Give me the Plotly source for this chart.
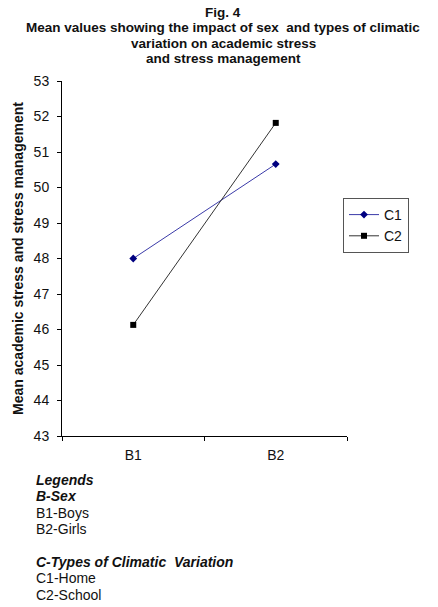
import plotly.graph_objects as go

categories = ["B1", "B2"]
c1_values = [48.0, 50.66]
c2_values = [46.13, 51.82]
series_names = ["C1", "C2"]
title_lines = [
    "Fig. 4",
    "Mean values showing the impact of sex  and types of climatic",
    "variation on academic stress",
    "and stress management",
]
y_title = "Mean academic stress and stress management"
note_lines = [
    ("<b><i>Legends</i></b>", 480),
    ("<b><i>B-Sex</i></b>", 496),
    ("B1-Boys", 513),
    ("B2-Girls", 529),
    ("<b><i>C-Types of Climatic  Variation</i></b>", 562),
    ("C1-Home", 578),
    ("C2-School", 595),
]

W, H = 438, 607
L, R, T, B = 62, 347, 81, 436
FONT = "Liberation Sans, Arial, sans-serif"
TXT = "#111"

def py(p):
    return (B - p) / (B - T)

def px(p):
    return (p - L) / (R - L)

fig = go.Figure()
fig.add_trace(go.Scatter(
    x=categories, y=c1_values, name=series_names[0], mode="lines+markers",
    line=dict(color="#3a3aa8", width=1),
    marker=dict(symbol="diamond", size=6, color="#000080"),
))
fig.add_trace(go.Scatter(
    x=categories, y=c2_values, name=series_names[1], mode="lines+markers",
    line=dict(color="#333333", width=1),
    marker=dict(symbol="square", size=6, color="#000000"),
))

annotations = []
title_y = [12.5, 27.8, 43.1, 58.4]
for t, yy in zip(title_lines, title_y):
    annotations.append(dict(
        text="<b>" + t + "</b>", xref="paper", yref="paper",
        x=px(223), y=py(yy), xanchor="center", yanchor="middle",
        showarrow=False, font=dict(family=FONT, size=13.5, color=TXT),
    ))
for t, yy in note_lines:
    annotations.append(dict(
        text=t, xref="paper", yref="paper",
        x=px(34), y=py(yy), xanchor="left", yanchor="middle",
        showarrow=False, font=dict(family=FONT, size=14, color=TXT),
    ))

fig.update_layout(
    width=W, height=H,
    margin=dict(l=L, r=W - R, t=T, b=H - B),
    paper_bgcolor="white", plot_bgcolor="white",
    font=dict(family=FONT, size=14, color=TXT),
    showlegend=True,
    legend=dict(
        x=px(343), y=py(198), xanchor="left", yanchor="top",
        bordercolor="#555", borderwidth=1, bgcolor="white",
        font=dict(family=FONT, size=14, color=TXT),
        itemwidth=30, tracegroupgap=0,
    ),
    annotations=annotations,
    xaxis=dict(
        type="category", range=[-0.5, 1.5],
        showline=True, linecolor="#000", linewidth=1,
        ticks="outside", tickson="boundaries", ticklen=4, tickcolor="#000",
        ticklabelstandoff=6,
        showgrid=False, zeroline=False,
        tickfont=dict(family=FONT, size=14, color=TXT),
    ),
    yaxis=dict(
        range=[43, 53], dtick=1,
        showline=True, linecolor="#000", linewidth=1,
        ticks="outside", ticklen=4, tickcolor="#000",
        ticklabelstandoff=5,
        showgrid=False, zeroline=False,
        tickfont=dict(family=FONT, size=14, color=TXT),
        title=dict(text="<b>" + y_title + "</b>", standoff=6,
                   font=dict(family=FONT, size=14, color=TXT)),
    ),
)

fig.write_html("out.html")
